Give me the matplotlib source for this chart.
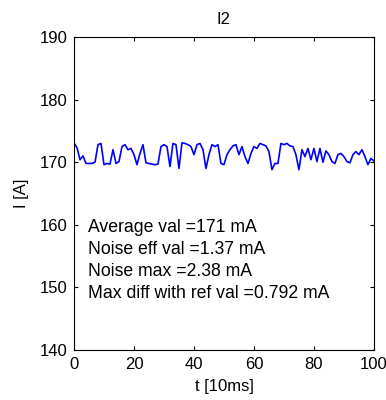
import matplotlib
matplotlib.use("Agg")
import matplotlib.pyplot as plt
import numpy as np

# Current samples, one every 10 ms
t = np.arange(0, 101)
current = [
    173.1, 172.3, 170.4, 171.0, 169.8, 169.8, 169.8, 170.0, 172.8, 173.0,
    169.6, 169.8, 169.7, 172.0, 169.8, 170.1, 172.5, 172.8, 172.0, 172.2,
    171.2, 169.6, 171.4, 172.8, 169.9, 169.8, 169.7, 169.6, 169.7, 172.5,
    172.8, 172.5, 169.3, 173.0, 172.8, 169.0, 173.1, 173.0, 172.8, 172.5,
    171.2, 172.8, 173.0, 172.0, 169.0, 171.2, 172.8, 172.5, 172.8, 169.8,
    169.6, 171.2, 172.0, 172.6, 172.8, 171.2, 172.5, 170.9, 169.8, 171.4,
    172.5, 172.2, 173.0, 172.8, 172.6, 171.7, 168.8, 169.8, 169.8, 173.0,
    172.8, 173.0, 172.6, 172.5, 171.2, 168.8, 172.0, 170.9, 172.2, 170.4,
    172.2, 170.1, 172.2, 170.0, 171.8, 171.2, 170.1, 169.8, 171.2, 171.4,
    170.9, 170.1, 169.9, 171.2, 171.7, 171.2, 172.0, 170.9, 169.6, 170.6,
    170.2,
]

stats = [
    "Average val =171 mA",
    "Noise eff val =1.37 mA",
    "Noise max =2.38 mA",
    "Max diff with ref val =0.792 mA",
]

xticks = [0, 20, 40, 60, 80, 100]
yticks = [140, 150, 160, 170, 180, 190]

FS_TICK = 12
FS_TEXT = 12.7
plt.rcParams["font.family"] = ["Liberation Sans", "DejaVu Sans"]
plt.rcParams["font.size"] = FS_TICK

fig = plt.figure(figsize=(3.86, 4.0), dpi=100)
ax = fig.add_axes([0.1917, 0.125, 0.777, 0.7825])

ax.plot(t, current, color="#0000ff", lw=1.2)

ax.set_xlim(0, 100)
ax.set_ylim(140, 190)
ax.set_xticks(xticks)
ax.set_yticks(yticks)
ax.tick_params(direction="in", length=3, top=True, right=True, width=0.8,
               labelsize=FS_TICK)
ax.tick_params(axis="x", pad=5)
ax.tick_params(axis="y", pad=4.5)
for s in ax.spines.values():
    s.set_linewidth(0.8)

ax.set_title("I2", fontsize=FS_TICK, pad=9)
ax.set_xlabel("t [10ms]", fontsize=FS_TICK, labelpad=5)
ax.set_ylabel("I [A]", fontsize=FS_TICK, labelpad=8)

y0 = 0.39
for i, line in enumerate(stats):
    ax.text(0.047, y0 - i * 0.0703, line, transform=ax.transAxes,
            ha="left", va="center", fontsize=FS_TEXT)

fig.savefig("out.png", dpi=100, facecolor="white")
